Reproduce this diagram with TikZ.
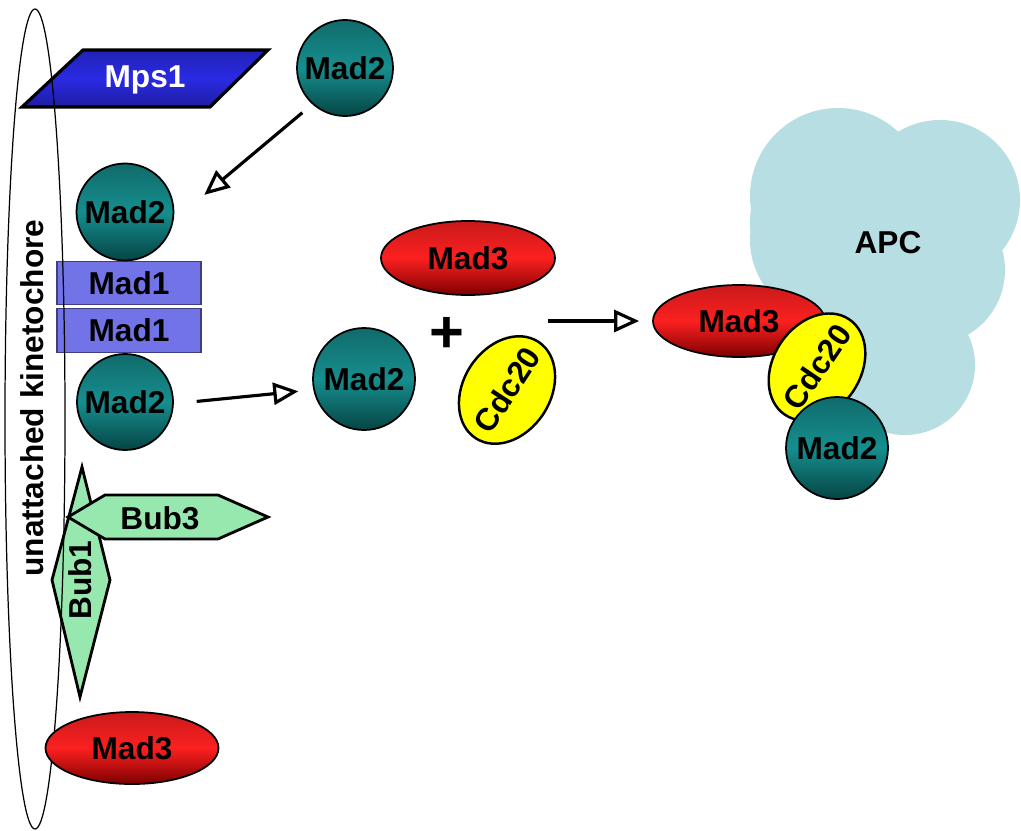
\documentclass[tikz,border=0pt]{standalone}
\usepackage{fontspec}
\setmainfont{Liberation Sans}
\usetikzlibrary{
    shapes.geometric,
    arrows.meta
}
\definecolor{madtwo}{RGB}{22,142,142}
\definecolor{madtwodark}{RGB}{6,68,68}
\definecolor{madthree}{RGB}{252,32,32}
\definecolor{madthreedark}{RGB}{125,0,0}
\definecolor{madone}{RGB}{115,115,232}
\definecolor{mpsblue}{RGB}{42,42,228}
\definecolor{bubgreen}{RGB}{150,232,175}
\definecolor{apcblue}{RGB}{183,222,226}
\definecolor{cdcyellow}{RGB}{255,255,0}
\tikzset{
    % Protein label style
    protein/.style={
        font=\fontsize{18}{21}\selectfont\bfseries,
        text=black,
        inner sep=0pt
    },
    % Mad2 disc style
    madtwo disc/.style={
        circle,
        minimum size=#1,
        draw=black,
        line width=1pt,
        top color=madtwo!75!black,
        bottom color=madtwodark,
        middle color=madtwo,
        protein
    },
    % Mad3 ellipse style
    madthree oval/.style={
        ellipse,
        minimum width=3.46cm,
        minimum height=1.44cm,
        draw=black,
        line width=1pt,
        top color=madthree!80!black,
        bottom color=madthreedark,
        middle color=madthree,
        protein
    },
    % Mad1 box style
    madone box/.style={
        rectangle,
        minimum width=2.88cm,
        minimum height=0.87cm,
        draw=madone!55!black,
        line width=0.8pt,
        fill=madone,
        protein
    },
    % Cdc20 ellipse style
    cdc oval/.style={
        ellipse,
        minimum width=2.3cm,
        minimum height=1.74cm,
        draw=black,
        line width=1.4pt,
        fill=cdcyellow,
        rotate=#1
    },
    % Arrow style
    flow/.style={
        -{Triangle[open, length=0.5cm, width=0.44cm]},
        line width=1.8pt
    },
    % Outline shapes
    bub shape/.style={
        draw=black,
        line width=1.6pt,
        fill=bubgreen,
        line join=miter
    },
    mps shape/.style={
        draw=black,
        line width=1.8pt,
        top color=mpsblue!80!black,
        bottom color=mpsblue!70!black,
        middle color=mpsblue
    }
}

\begin{document}
\begin{tikzpicture}

        \useasboundingbox (0,0) rectangle (20.42,-16.6);

        % Kinetochore proteins
        \draw[mps shape] (1.66,-1.0) -- (5.36,-1.0) -- (4.2,-2.14) -- (0.44,-2.14) -- cycle;
        \node[protein, text=white] (mpsone) at (2.9,-1.6) {Mps1};

        \node[madone box] (madonea) at (2.58,-5.66) {Mad1};
        \node[madone box] (madoneb) at (2.58,-6.61) {Mad1};

        \draw[bub shape] (1.64,-9.34) -- (2.2,-11.6) -- (1.6,-13.94) -- (1.04,-11.6) -- cycle;
        \node[protein, rotate=90] (bubone) at (1.6,-11.6) {Bub1};
        \draw[bub shape] (1.36,-10.34) -- (2.1,-9.9) -- (4.36,-9.9) -- (5.36,-10.34) -- (4.36,-10.78) -- (2.1,-10.78) -- cycle;
        \node[protein] (bubthree) at (3.2,-10.36) {Bub3};

        % Kinetochore
        \node[ellipse, draw=black, line width=0.7pt, minimum width=1.2cm, minimum height=16.4cm] (kin) at (0.7,-8.38) {};
        \node[protein, rotate=90] (kinlabel) at (0.64,-7.96) {unattached kinetochore};

        \node[madtwo disc=1.92cm] (mad2top) at (6.9,-1.36) {Mad2};
        \node[madtwo disc=1.94cm] (mad2a) at (2.5,-4.24) {Mad2};
        \node[madtwo disc=1.92cm] (mad2b) at (2.5,-8.04) {Mad2};
        \node[madthree oval] (mad3b) at (2.64,-14.96) {Mad3};

        % Free components
        \node[madtwo disc=2.04cm] (mad2c) at (7.28,-7.58) {Mad2};
        \node[madthree oval, minimum width=3.48cm, minimum height=1.48cm] (mad3m) at (9.36,-5.16) {Mad3};
        \node[protein, font=\fontsize{34}{36}\selectfont\bfseries] (plus) at (8.94,-6.7) {+};
        \node[cdc oval=57] (cdcm) at (10.14,-7.8) {};
        \node[protein, rotate=57] (cdcmlabel) at (10.14,-7.8) {Cdc20};

        % APC complex
        \fill[apcblue] (16.76,-3.92) circle (1.76) (16.6,-4.8) circle (1.6) (17.0,-4.44) circle (2.0) (18.8,-4.0) circle (1.6)
            (18.6,-5.4) circle (1.5) (18.1,-7.3) circle (1.4) (17.6,-6.0) circle (1.6);
        \node[protein] (apc) at (17.76,-4.86) {APC};
        \node[madthree oval, minimum width=3.44cm] (mad3r) at (14.78,-6.42) {Mad3};
        \node[cdc oval=56] (cdcr) at (16.34,-7.34) {};
        \node[protein, rotate=56] (cdcrlabel) at (16.34,-7.34) {Cdc20};
        \node[madtwo disc=2.04cm] (mad2r) at (16.74,-8.96) {Mad2};

        % Connections
        \coordinate (mix) at (10.96,-6.42);
        \draw[flow, shorten <=0.26cm, shorten >=0.8cm] (mad2top.228) -- (mad2a.-10);
        \draw[flow, shorten <=0.46cm, shorten >=0.3cm] (mad2b.-2) -- (mad2c.192);
        \draw[flow, shorten >=0.26cm] (mix) -- (mad3r.west);

    \end{tikzpicture}
\end{document}
